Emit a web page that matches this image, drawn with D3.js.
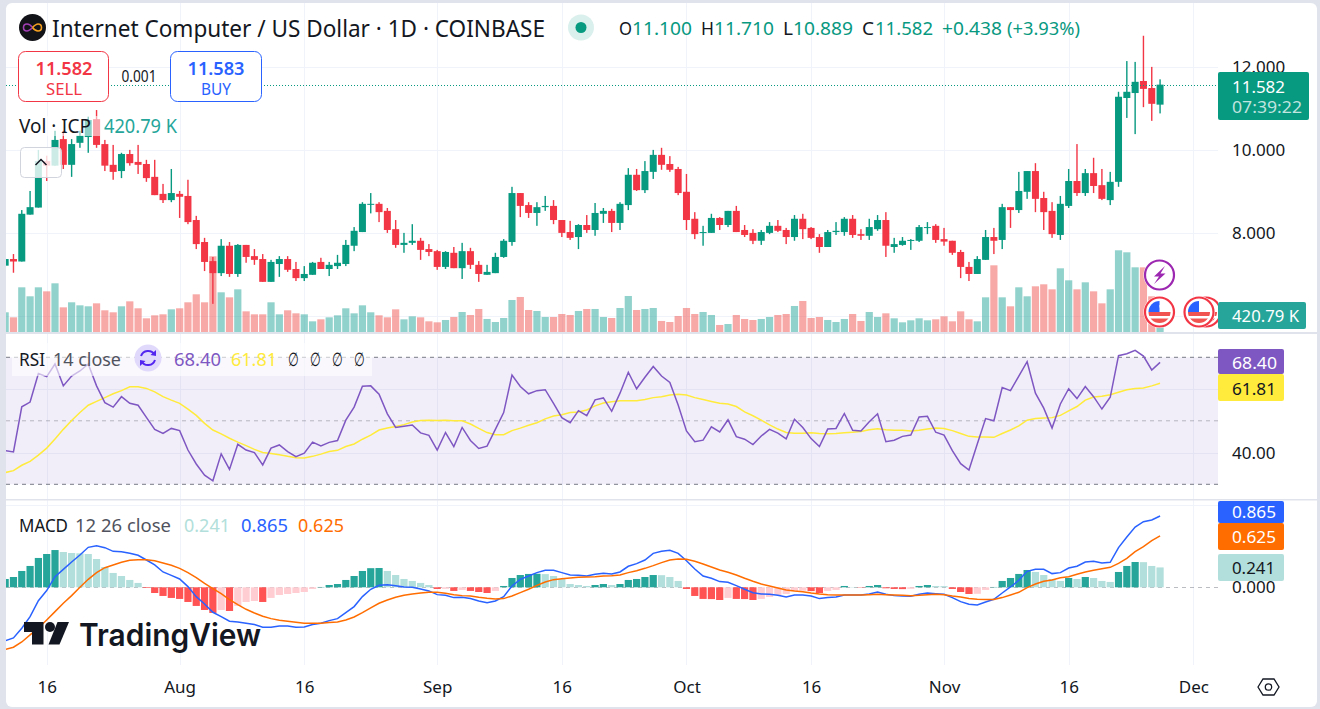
<!DOCTYPE html>
<html>
<head>
<meta charset="utf-8">
<style>
  html, body { margin: 0; padding: 0; background: #e0e3eb; overflow: hidden; }
  text { font-family: "Noto Sans", sans-serif; }
</style>
<script src="https://cdn.jsdelivr.net/npm/d3@7"></script>
</head>
<body>
<script>
const opens = [
  7.22,7.38,7.32,8.45,8.62,9.74,9.63,10.27,9.65,10.18,
  10.32,10.75,10.15,9.65,9.50,9.91,9.72,9.67,9.36,8.95,
  8.80,8.95,8.90,8.32,7.79,7.33,7.04,7.70,7.02,7.72,
  7.45,7.38,6.83,7.26,7.38,7.14,6.92,7.00,7.31,7.14,
  7.21,7.26,7.70,8.03,8.70,8.71,8.54,8.10,7.72,7.77,
  7.82,7.62,7.57,7.19,7.53,7.16,7.57,7.24,7.00,7.04,
  7.43,7.79,8.97,8.68,8.49,8.63,8.66,8.32,8.03,7.91,
  8.20,8.08,8.47,8.54,8.25,8.68,9.41,9.04,9.48,9.89,
  9.67,9.55,9.00,8.35,8.01,8.01,8.37,8.20,8.54,8.08,
  8.01,7.82,8.01,8.18,8.08,7.91,8.35,8.13,7.91,7.67,
  8.03,8.03,8.35,7.98,7.94,8.10,8.32,7.67,7.72,7.82,
  7.82,8.14,8.18,7.86,7.82,7.55,7.19,7.02,7.36,7.91,
  7.84,8.63,8.56,9.00,9.50,8.85,8.54,7.96,8.66,9.26,
  8.97,9.45,9.16,8.80,9.24,11.26,11.38,11.67,11.50,11.10,
];
const highs = [
  7.38,7.50,8.56,9.02,10.01,9.87,10.47,10.47,10.27,10.47,
  10.81,10.97,10.25,10.13,9.94,10.01,10.13,9.77,9.77,9.19,
  9.55,9.02,9.29,8.42,7.89,7.43,7.86,7.79,7.74,7.72,
  7.62,7.50,7.36,7.45,7.45,7.31,7.21,7.31,7.41,7.31,
  7.48,7.84,8.15,8.75,8.97,8.75,8.61,8.32,8.01,8.22,
  7.89,7.74,7.60,7.57,7.67,7.77,7.65,7.33,7.24,7.53,
  7.86,9.12,8.97,8.75,8.75,8.90,8.80,8.32,8.30,8.22,
  8.44,8.73,8.61,8.59,8.75,9.57,9.55,9.74,10.01,10.06,
  9.86,9.60,9.43,8.51,8.18,8.47,8.39,8.54,8.66,8.20,
  8.10,8.08,8.27,8.32,8.13,8.44,8.47,8.15,7.98,8.08,
  8.27,8.39,8.44,8.10,8.35,8.44,8.51,7.89,7.91,7.86,
  8.20,8.27,8.22,8.13,7.82,7.60,7.31,7.45,8.08,8.13,
  8.71,8.63,9.48,9.50,9.69,9.00,8.75,8.90,9.55,10.15,
  9.55,9.82,9.55,9.48,11.41,12.15,12.13,12.76,12.01,11.71,
];
const lows = [
  7.22,7.05,7.32,8.45,8.62,9.26,9.63,9.55,9.36,10.06,
  9.94,10.06,9.50,9.29,9.33,9.63,9.43,9.24,8.92,8.73,
  8.75,8.37,8.22,7.62,7.09,6.30,6.97,6.95,6.95,7.29,
  7.24,6.83,6.83,6.95,7.07,6.85,6.85,7.00,7.14,6.97,
  7.14,7.21,7.57,8.03,8.48,8.27,8.01,7.65,7.53,7.72,
  7.36,7.45,7.12,7.14,7.16,6.90,7.14,6.83,7.00,7.04,
  7.41,7.70,8.39,8.37,8.18,8.54,8.22,7.91,7.84,7.62,
  8.01,7.94,8.25,8.03,8.08,8.56,9.02,8.97,9.31,9.53,
  9.48,8.92,8.08,7.86,7.70,8.01,8.08,8.15,8.03,7.91,
  7.74,7.72,7.98,8.03,7.74,7.82,7.86,7.86,7.53,7.67,
  7.96,7.94,7.89,7.84,7.84,8.06,7.43,7.53,7.70,7.60,
  7.79,7.98,7.77,7.70,7.48,6.92,6.85,7.02,7.36,7.50,
  7.62,8.13,8.49,8.83,8.51,8.08,7.89,7.84,8.61,8.90,
  8.90,8.97,8.80,8.68,9.12,10.78,10.39,11.04,10.71,10.889,
];
const closes = [
  7.38,7.32,8.47,8.63,9.74,9.63,10.25,9.65,10.15,10.35,
  10.73,10.13,9.63,9.48,9.91,9.69,9.65,9.33,8.92,8.80,
  8.97,8.88,8.27,7.74,7.31,7.04,7.70,7.02,7.72,7.43,
  7.36,6.83,7.31,7.38,7.12,6.92,7.02,7.29,7.14,7.24,
  7.29,7.72,8.06,8.71,8.71,8.51,8.08,7.72,7.77,7.82,
  7.60,7.55,7.19,7.55,7.16,7.57,7.24,7.02,7.07,7.43,
  7.82,8.97,8.66,8.49,8.63,8.66,8.32,8.01,7.89,8.20,
  8.08,8.49,8.54,8.25,8.71,9.41,9.04,9.50,9.89,9.65,
  9.53,8.97,8.32,7.98,8.03,8.37,8.20,8.54,8.03,7.96,
  7.82,8.03,8.18,8.06,7.91,8.35,8.10,7.89,7.67,8.03,
  8.06,8.35,7.96,7.94,8.15,8.32,7.70,7.74,7.82,7.84,
  8.15,8.15,7.84,7.80,7.53,7.19,7.02,7.38,7.91,7.82,
  8.63,8.56,9.02,9.50,8.83,8.51,7.98,8.71,9.26,8.97,
  9.45,9.14,8.83,9.24,11.29,11.41,11.65,11.48,11.12,11.582,
];
// volume in thousands
const volumes = [
  502,374,1139,910,1139,1037,1241,629,757,680,
  655,731,553,502,655,782,604,349,425,451,
  578,604,757,961,757,1930,1012,884,1088,527,
  451,451,757,451,553,476,451,272,323,374,
  425,604,476,680,502,425,374,578,323,400,
  374,272,247,306,383,510,434,587,332,255,
  357,816,893,561,536,383,383,459,434,536,
  587,587,383,357,612,918,561,587,612,281,
  255,408,612,459,510,434,179,204,434,332,
  306,332,383,434,459,663,791,357,383,306,
  255,332,459,281,510,383,476,349,247,298,
  349,298,323,400,272,527,323,272,884,1700,
  884,655,1139,910,1165,1216,1088,1624,1318,1088,
  1267,1037,731,1088,2083,2032,1649,1649,910,420.79,
];
const rsi = [
  40.6,40.2,54.4,55.9,64.9,63.9,67.9,61.0,64.1,65.7,
  67.9,61.0,55.7,54.3,57.6,55.5,54.9,51.1,47.3,46.0,
  47.6,46.9,40.8,36.4,32.9,31.1,39.6,34.7,42.6,40.8,
  40.0,36.1,41.4,42.4,40.3,38.7,39.8,43.3,42.1,43.2,
  43.8,50.2,54.3,60.9,61.0,58.4,52.2,47.9,48.3,48.7,
  46.2,45.4,40.8,46.3,41.9,47.9,43.8,41.3,42.0,47.3,
  52.6,64.4,60.8,58.5,59.5,59.8,55.5,51.0,49.4,53.2,
  51.6,56.6,57.2,53.0,58.7,65.3,60.1,63.7,67.1,64.1,
  62.1,55.0,46.8,43.4,43.9,48.1,46.5,50.3,45.0,44.2,
  42.5,45.2,47.3,46.1,44.3,50.5,47.9,44.4,41.9,47.4,
  47.6,52.3,47.0,46.8,49.7,52.2,43.4,43.9,45.1,45.5,
  51.2,51.4,46.4,45.5,40.6,36.5,34.5,42.7,50.7,50.0,
  60.5,59.5,64.1,68.6,58.7,54.0,47.7,55.3,60.1,57.0,
  60.8,57.6,53.7,57.4,70.5,71.1,72.2,70.4,66.0,68.40,
];
const rsiMa = [
  33.7,34.3,36.0,37.2,39.2,41.4,44.3,47.3,50.1,52.6,
  54.9,56.1,57.3,58.5,59.5,60.7,60.7,60.2,59.1,57.6,
  56.5,55.5,53.7,51.7,49.2,47.1,45.9,44.5,43.3,42.2,
  41.0,40.0,39.7,39.3,38.8,38.4,38.3,38.8,39.5,40.3,
  40.7,41.9,42.7,44.2,45.5,47.1,47.7,48.2,48.8,49.6,
  50.1,50.2,50.1,50.2,50.0,50.0,49.0,47.6,46.3,45.6,
  45.6,46.9,47.7,48.6,49.4,50.6,51.5,51.9,52.6,52.8,
  53.4,54.7,55.6,56.0,56.3,56.3,56.3,56.7,57.3,57.6,
  58.1,58.4,58.1,57.3,56.7,56.1,55.5,55.3,54.5,52.8,
  51.6,50.2,48.7,47.4,46.3,46.1,46.1,46.2,46.0,45.9,
  46.0,46.2,46.4,46.6,47.2,47.5,47.2,47.0,47.0,46.8,
  47.0,47.4,47.7,47.6,46.9,46.0,45.1,44.9,44.9,44.8,
  46.0,47.1,48.4,50.2,50.7,50.9,51.0,51.7,53.1,54.5,
  56.5,57.5,57.7,58.2,59.0,59.8,60.2,60.3,61.0,61.81,
];
const macdLine = [
  -.650,-.614,-.497,-.356,-.162,-.040,.129,.218,.307,.392,
  .485,.505,.481,.436,.432,.412,.388,.331,.271,.186,
  .145,.101,.008,-.113,-.202,-.303,-.356,-.412,-.420,-.436,
  -.452,-.485,-.485,-.469,-.469,-.485,-.481,-.452,-.436,-.404,
  -.380,-.307,-.234,-.113,-.024,.024,.032,.020,.004,0,
  -.020,-.044,-.089,-.097,-.125,-.121,-.137,-.166,-.186,-.166,
  -.113,.016,.097,.137,.178,.206,.206,.178,.149,.145,
  .137,.158,.170,.162,.186,.255,.287,.331,.412,.436,
  .448,.412,.323,.222,.137,.109,.069,.061,.020,-.024,
  -.065,-.081,-.085,-.097,-.117,-.093,-.093,-.105,-.137,-.125,
  -.117,-.093,-.093,-.093,-.081,-.057,-.085,-.101,-.105,-.109,
  -.085,-.069,-.077,-.085,-.125,-.174,-.206,-.214,-.178,-.145,
  -.069,.004,.085,.194,.218,.218,.166,.178,.234,.255,
  .307,.315,.295,.303,.481,.610,.731,.796,.816,.865,
];
const signalLine = [
  -.755,-.727,-.663,-.578,-.493,-.396,-.295,-.194,-.101,0,
  .097,.178,.238,.271,.303,.327,.335,.335,.323,.295,
  .267,.230,.178,.117,.048,-.016,-.077,-.149,-.210,-.267,
  -.311,-.351,-.380,-.400,-.412,-.424,-.436,-.436,-.436,-.428,
  -.420,-.396,-.360,-.307,-.250,-.194,-.154,-.121,-.097,-.081,
  -.069,-.061,-.061,-.073,-.089,-.101,-.105,-.121,-.133,-.141,
  -.137,-.105,-.065,-.024,.024,.065,.093,.105,.113,.121,
  .125,.129,.137,.141,.149,.178,.202,.230,.263,.299,
  .331,.343,.339,.315,.283,.246,.210,.182,.149,.109,
  .073,.040,.016,-.008,-.032,-.044,-.053,-.069,-.081,-.089,
  -.093,-.093,-.093,-.093,-.089,-.085,-.089,-.093,-.097,-.101,
  -.097,-.089,-.085,-.089,-.105,-.117,-.137,-.145,-.149,-.149,
  -.125,-.093,-.061,-.004,.040,.073,.089,.117,.129,.158,
  .186,.206,.226,.242,.291,.351,.432,.493,.566,.625,
];
const histogram = [
  .101,.125,.198,.259,.356,.404,.452,.428,.416,.412,
  .404,.343,.246,.174,.137,.089,.053,-.008,-.069,-.105,
  -.129,-.141,-.178,-.226,-.275,-.311,-.275,-.287,-.226,-.178,
  -.166,-.178,-.129,-.093,-.081,-.069,-.057,-.020,.004,.028,
  .040,.089,.137,.198,.232,.234,.198,.149,.101,.077,
  .053,.028,-.020,-.018,-.044,-.032,-.044,-.057,-.069,-.044,
  .016,.113,.149,.162,.164,.160,.137,.101,.040,.028,
  .016,.028,.040,.028,.040,.089,.101,.125,.149,.147,
  .125,.077,-.020,-.105,-.141,-.143,-.154,-.129,-.141,-.143,
  -.154,-.141,-.117,-.093,-.081,-.044,-.042,-.046,-.069,-.044,
  -.032,.016,.004,-.004,.016,.028,-.012,-.020,-.022,-.018,
  .016,.028,.016,.014,-.020,-.057,-.081,-.079,-.032,.004,
  .077,.113,.162,.210,.186,.149,.101,.077,.113,.101,
  .125,.113,.077,.065,.186,.259,.307,.305,.259,.241,
];

const priceTicks = [12, 10, 8];
const priceGrid = [12, 10, 8, 6];
const rsiGrid = [60, 40];
const macdGrid = [1];
const timeTicks = ["2024-07-16", "2024-08-01", "2024-08-16", "2024-09-01", "2024-09-16", "2024-10-01", "2024-10-16", "2024-11-01", "2024-11-16", "2024-12-01"];
const timeLabels = ["16", "Aug", "16", "Sep", "16", "Oct", "16", "Nov", "16", "Dec"];

const dates = d3.utcDay.range(new Date("2024-07-11"), new Date("2024-11-28"));
const tickDates = timeTicks.map((d) => new Date(d));

const W = 1320;
const H = 709;
const left = 6;
const plotRight = 1218;
const paneRight = 1317;

const x = d3.scaleUtc().domain([tickDates[0], tickDates[9]]).range([46.7, 1193.3]);
const yPrice = d3.scaleLinear().domain([8, 12]).range([233.3, 67.3]);
const yVol = d3.scaleLinear().domain([0, 2083]).range([332, 250.3]);
const yRsi = d3.scaleLinear().domain([30, 70]).range([484.3, 357.3]);
const yMacd = d3.scaleLinear().domain([0, 0.865]).range([587.3, 516]);

const svg = d3.select("body").append("svg").attr("width", W).attr("height", H).style("display", "block");

svg.append("rect").attr("x", left).attr("y", 3).attr("width", paneRight - left).attr("height", 704).attr("rx", 6).attr("fill", "#fff");

const defs = svg.append("defs");
function clip(id, y0, y1) {
  defs.append("clipPath").attr("id", id).append("rect").attr("x", left).attr("y", y0).attr("width", plotRight - left).attr("height", y1 - y0);
}
clip("clip-main", 3, 332);
clip("clip-rsi", 334, 499);
clip("clip-macd", 501, 665);

function label(g, px, py, str, o) {
  const t = g.append("text").attr("x", px).attr("y", py).attr("dominant-baseline", "central").text(str)
    .attr("fill", o.fill || "#131722").attr("font-size", o.size || 16);
  if (o.w) t.attr("textLength", o.w).attr("lengthAdjust", "spacingAndGlyphs");
  if (o.weight) t.attr("font-weight", o.weight);
  if (o.anchor) t.attr("text-anchor", o.anchor);
  return t;
}

// vertical and horizontal grid
const grid = svg.append("g").attr("stroke", "#f0f3fa").attr("stroke-width", 1);
grid.selectAll(".v").data(tickDates).enter().append("line")
  .attr("x1", (d) => Math.round(x(d)) + 0.5).attr("x2", (d) => Math.round(x(d)) + 0.5)
  .attr("y1", 3).attr("y2", 665);
function hGrid(values, scale) {
  grid.selectAll(null).data(values).enter().append("line")
    .attr("x1", left).attr("x2", plotRight)
    .attr("y1", (d) => Math.round(scale(d)) + 0.5).attr("y2", (d) => Math.round(scale(d)) + 0.5);
}
hGrid(priceGrid, yPrice);
hGrid(rsiGrid, yRsi);
hGrid(macdGrid, yMacd);

// pane separators
svg.append("rect").attr("x", left).attr("y", 332).attr("width", paneRight - left).attr("height", 2).attr("fill", "#e0e3eb");
svg.append("rect").attr("x", left).attr("y", 499).attr("width", paneRight - left).attr("height", 1.5).attr("fill", "#e0e3eb");

// main pane
const main = svg.append("g").attr("clip-path", "url(#clip-main)");
const isUp = (i) => closes[i] >= opens[i];
const upColor = "#089981";
const downColor = "#f23645";

main.selectAll(".vol").data(volumes).enter().append("rect")
  .attr("x", (d, i) => x(dates[i]) - 3.6).attr("width", 7.2)
  .attr("y", (d) => yVol(d)).attr("height", (d) => yVol(0) - yVol(d))
  .attr("fill", (d, i) => (isUp(i) ? "rgba(38,166,154,0.5)" : "rgba(239,83,80,0.5)"));

main.selectAll(".wick").data(dates).enter().append("rect")
  .attr("x", (d) => x(d) - 0.7).attr("width", 1.4)
  .attr("y", (d, i) => yPrice(highs[i])).attr("height", (d, i) => yPrice(lows[i]) - yPrice(highs[i]))
  .attr("fill", (d, i) => (isUp(i) ? upColor : downColor));

main.selectAll(".body").data(dates).enter().append("rect")
  .attr("x", (d) => x(d) - 3.5).attr("width", 7)
  .attr("y", (d, i) => yPrice(Math.max(opens[i], closes[i])))
  .attr("height", (d, i) => Math.max(1, Math.abs(yPrice(opens[i]) - yPrice(closes[i]))))
  .attr("fill", (d, i) => (isUp(i) ? upColor : downColor));

svg.append("line").attr("x1", left).attr("x2", plotRight).attr("y1", 85.5).attr("y2", 85.5)
  .attr("stroke", upColor).attr("stroke-width", 1).attr("stroke-dasharray", "1 2");

// rsi pane
const rsiPane = svg.append("g").attr("clip-path", "url(#clip-rsi)");
rsiPane.append("rect").attr("x", left).attr("width", plotRight - left)
  .attr("y", yRsi(70)).attr("height", yRsi(30) - yRsi(70)).attr("fill", "rgba(126,87,194,0.1)");
[[70, "#787b86"], [50, "rgba(120,123,134,0.5)"], [30, "#787b86"]].forEach(([v, c]) => {
  rsiPane.append("line").attr("x1", left).attr("x2", plotRight).attr("y1", yRsi(v)).attr("y2", yRsi(v))
    .attr("stroke", c).attr("stroke-dasharray", "4 4");
});
const rsiPath = (vals) => d3.line().x((d, i) => x(dates[i])).y((d) => yRsi(d))(vals);
rsiPane.append("path").attr("d", rsiPath(rsiMa)).attr("fill", "none").attr("stroke", "#ffeb3b").attr("stroke-width", 1.5);
rsiPane.append("path").attr("d", rsiPath(rsi)).attr("fill", "none").attr("stroke", "#7e57c2").attr("stroke-width", 1.5);

// macd pane
const macdPane = svg.append("g").attr("clip-path", "url(#clip-macd)");
macdPane.append("line").attr("x1", left).attr("x2", plotRight).attr("y1", 587.5).attr("y2", 587.5)
  .attr("stroke", "rgba(120,123,134,0.5)").attr("stroke-dasharray", "4 4");
function histColor(d, i) {
  const prev = i > 0 ? histogram[i - 1] : 0;
  if (d >= 0) return d > prev ? "#26a69a" : "#b2dfdb";
  return d < prev ? "#ff5252" : "#ffcdd2";
}
macdPane.selectAll(".hist").data(histogram).enter().append("rect")
  .attr("x", (d, i) => x(dates[i]) - 3.6).attr("width", 7.2)
  .attr("y", (d) => Math.min(yMacd(d), yMacd(0)))
  .attr("height", (d) => Math.abs(yMacd(d) - yMacd(0)))
  .attr("fill", histColor);
const macdPath = (vals) => d3.line().x((d, i) => x(dates[i])).y((d) => yMacd(d))(vals);
macdPane.append("path").attr("d", macdPath(macdLine)).attr("fill", "none").attr("stroke", "#2962ff").attr("stroke-width", 1.5);
macdPane.append("path").attr("d", macdPath(signalLine)).attr("fill", "none").attr("stroke", "#ff6d00").attr("stroke-width", 1.5);

// axes
function styleAxis(g, size) {
  g.select(".domain").remove();
  g.selectAll("text").attr("font-size", size).attr("fill", "#131722").style("font-family", '"Noto Sans", sans-serif');
}
const priceAxis = svg.append("g").attr("transform", "translate(1218,0)")
  .call(d3.axisRight(yPrice).tickValues(priceTicks).tickSize(0).tickPadding(14).tickFormat(d3.format(".3f")));
styleAxis(priceAxis, 17);

const rsiAxis = svg.append("g").attr("transform", "translate(1218,0)")
  .call(d3.axisRight(yRsi).tickValues([40]).tickSize(0).tickPadding(14).tickFormat(d3.format(".2f")));
styleAxis(rsiAxis, 17);

const macdAxis = svg.append("g").attr("transform", "translate(1218,0)")
  .call(d3.axisRight(yMacd).tickValues([0]).tickSize(0).tickPadding(14).tickFormat(d3.format(".3f")));
styleAxis(macdAxis, 17);

const timeAxis = svg.append("g").attr("transform", "translate(0,678)")
  .call(d3.axisBottom(x).tickValues(tickDates).tickSize(0).tickPadding(3).tickFormat((d, i) => timeLabels[i]));
styleAxis(timeAxis, 17);

// tags on the price axis
function tag(y0, h, width, color) {
  svg.append("rect").attr("x", 1218).attr("y", y0).attr("width", width).attr("height", h).attr("rx", 2).attr("fill", color);
}
tag(72, 48, 91, upColor);
label(svg, 1232, 86, "11.582", { fill: "#fff", size: 17, w: 53 });
label(svg, 1232, 106.5, "07:39:22", { fill: "rgba(255,255,255,0.75)", size: 17, w: 70 });
tag(302, 27, 88, "#26a69a");
label(svg, 1232, 315.5, "420.79 K", { fill: "#fff", size: 17, w: 67 });
tag(349, 25, 66, "#7e57c2");
label(svg, 1232, 362, "68.40", { fill: "#fff", size: 17, w: 45 });
tag(374, 27, 66, "#ffeb3b");
label(svg, 1232, 388, "61.81", { size: 17, w: 44 });
tag(501, 22, 66, "#2962ff");
label(svg, 1232, 511.5, "0.865", { fill: "#fff", size: 17, w: 44 });
tag(523, 27, 66, "#ff6d00");
label(svg, 1232, 536.5, "0.625", { fill: "#fff", size: 17, w: 44 });
tag(554, 27, 66, "#b2dfdb");
label(svg, 1232, 567.5, "0.241", { size: 17, w: 43 });

// settings hexagon
svg.append("path").attr("d", "M1258 687L1263 679H1274L1279 687L1274 695H1263Z").attr("fill", "none").attr("stroke", "#131722").attr("stroke-width", 1.3);
svg.append("circle").attr("cx", 1268.5).attr("cy", 687).attr("r", 3.2).attr("fill", "none").attr("stroke", "#131722").attr("stroke-width", 1.3);

// title row
svg.append("circle").attr("cx", 32.5).attr("cy", 27.5).attr("r", 13.5).attr("fill", "#111318");
svg.append("path").attr("d", "M32.5 27.5C30 24 28.5 24 27 24C24.5 24 23.5 26 23.5 27.5C23.5 29 24.5 31 27 31C29 31 30.5 29.5 32.5 27.5").attr("fill", "none").attr("stroke", "#a23fb5").attr("stroke-width", 1.6);
svg.append("path").attr("d", "M32.5 27.5C34.5 25.5 36 24 38 24C40.5 24 41.5 26 41.5 27.5C41.5 29 40.5 31 38 31C36.5 31 35 31 32.5 27.5").attr("fill", "none").attr("stroke", "#f5a020").attr("stroke-width", 1.6);
label(svg, 52, 27.5, "Internet Computer / US Dollar · 1D · COINBASE", { size: 23.5, w: 493 });

svg.append("circle").attr("cx", 581).attr("cy", 27.5).attr("r", 13).attr("fill", "rgba(8,153,129,0.15)");
svg.append("circle").attr("cx", 581).attr("cy", 27.5).attr("r", 5.5).attr("fill", upColor);

const ohlcRow = [
  ["O", 619, 13, "#131722"], ["11.100", 632, 60, upColor],
  ["H", 701, 13, "#131722"], ["11.710", 714, 60, upColor],
  ["L", 783, 10, "#131722"], ["10.889", 793, 60, upColor],
  ["C", 862, 12, "#131722"], ["11.582", 875, 58, upColor],
  ["+0.438", 942, 60, upColor], ["(+3.93%)", 1007, 73, upColor],
];
ohlcRow.forEach(([s, px, w, c]) => label(svg, px, 27.5, s, { size: 18.5, w: w, fill: c }));

// sell and buy buttons
svg.append("rect").attr("x", 18.5).attr("y", 51.5).attr("width", 90).attr("height", 50).attr("rx", 7).attr("fill", "#fff").attr("stroke", downColor);
svg.append("rect").attr("x", 170.5).attr("y", 51.5).attr("width", 91).attr("height", 50).attr("rx", 7).attr("fill", "#fff").attr("stroke", "#2962ff");
label(svg, 64, 67.7, "11.582", { fill: downColor, size: 18.5, w: 57, anchor: "middle", weight: 600 });
label(svg, 64, 88, "SELL", { fill: downColor, size: 17, w: 36, anchor: "middle" });
label(svg, 139, 76, "0.001", { size: 15.5, w: 35, anchor: "middle" });
label(svg, 216, 67.7, "11.583", { fill: "#2962ff", size: 18.5, w: 57, anchor: "middle", weight: 600 });
label(svg, 216, 88, "BUY", { fill: "#2962ff", size: 17, w: 30, anchor: "middle" });

// volume legend and collapse button
svg.append("rect").attr("x", 14).attr("y", 116).attr("width", 86).attr("height", 20).attr("fill", "rgba(255,255,255,0.55)");
label(svg, 19, 126, "Vol · ICP", { size: 19, w: 72 });
label(svg, 104, 126, "420.79 K", { size: 19, w: 73, fill: "#26a69a" });
svg.append("rect").attr("x", 20.5).attr("y", 147.5).attr("width", 41).attr("height", 30).attr("rx", 4)
  .attr("fill", "rgba(255,255,255,0.8)").attr("stroke", "#d1d4dc");
svg.append("path").attr("d", "M35.5 165L41 159.5L46.5 165").attr("fill", "none").attr("stroke", "#131722").attr("stroke-width", 1.5);

// rsi legend
svg.append("rect").attr("x", 12).attr("y", 343).attr("width", 360).attr("height", 33).attr("fill", "rgba(255,255,255,0.6)");
label(svg, 19, 358, "RSI", { size: 18.5, w: 26 });
label(svg, 53, 358, "14 close", { size: 18.5, w: 68, fill: "#50535e" });
svg.append("circle").attr("cx", 148).attr("cy", 358).attr("r", 13.5).attr("fill", "#e1d9fb");
svg.append("path").attr("d", "M141 356A7.5 7.5 0 0 1 154.5 354.5M155 360A7.5 7.5 0 0 1 141.5 361.5").attr("fill", "none").attr("stroke", "#5326f0").attr("stroke-width", 2);
svg.append("path").attr("d", "M156 350L156 356L150.5 355ZM140 366L140 360L145.5 361Z").attr("fill", "#5326f0");
label(svg, 174, 358, "68.40", { size: 18.5, w: 47, fill: "#7e57c2" });
label(svg, 231, 358, "61.81", { size: 18.5, w: 46, fill: "#ffeb3b" });
[288, 310, 332, 354].forEach((px) => label(svg, px, 358, "∅", { size: 18.5, w: 11 }));

// macd legend
label(svg, 19, 524.5, "MACD", { size: 18, w: 49 });
label(svg, 75, 524.5, "12 26 close", { size: 18, w: 96, fill: "#50535e" });
label(svg, 184, 524.5, "0.241", { size: 18, w: 46, fill: "#b2dfdb" });
label(svg, 241, 524.5, "0.865", { size: 18, w: 47, fill: "#2962ff" });
label(svg, 298, 524.5, "0.625", { size: 18, w: 46, fill: "#ff6d00" });

// tradingview watermark
const mark = svg.append("g").attr("fill", "#131722");
mark.append("path").attr("d", "M24 622H43.5V644.5H32V632H24Z");
mark.append("circle").attr("cx", 50).attr("cy", 627).attr("r", 5);
mark.append("path").attr("d", "M57.5 622H69L59.5 644.5H48.5Z");
label(mark, 79, 634, "TradingView", { size: 31, w: 182, weight: 600 }).style("font-family", "Inter, sans-serif");

// event markers on top of the volume pane
const markers = svg.append("g").attr("clip-path", "url(#clip-main)");
markers.append("circle").attr("cx", 1159.5).attr("cy", 275).attr("r", 16).attr("fill", "#fff");
markers.append("circle").attr("cx", 1159.5).attr("cy", 275).attr("r", 14.5).attr("fill", "#fff").attr("stroke", "#9c27b0").attr("stroke-width", 2.2);
markers.append("path").attr("d", "M1165 266L1154 276.5H1159L1154 284L1165.5 273.5H1160.5Z").attr("fill", "#9c27b0");
[1159.5, 1206, 1199].forEach((cx) => {
  const flag = markers.append("g");
  flag.append("circle").attr("cx", cx).attr("cy", 312).attr("r", 16).attr("fill", "#fff");
  flag.append("circle").attr("cx", cx).attr("cy", 312).attr("r", 14.5).attr("fill", "#fff").attr("stroke", "#f23645").attr("stroke-width", 2.2);
  flag.append("path").attr("d", `M${cx - 11} 312h22a11 11 0 0 1 -22 0Z`).attr("fill", "#f05350");
  flag.append("path").attr("d", `M${cx} 301a11 11 0 0 0 -11 11h11Z`).attr("fill", "#2962ff");
  flag.append("path").attr("d", `M${cx} 305h9v2.5h-9ZM${cx - 11} 316h22v2.5h-22Z`).attr("fill", "#fff");
});
</script>
</body>
</html>
